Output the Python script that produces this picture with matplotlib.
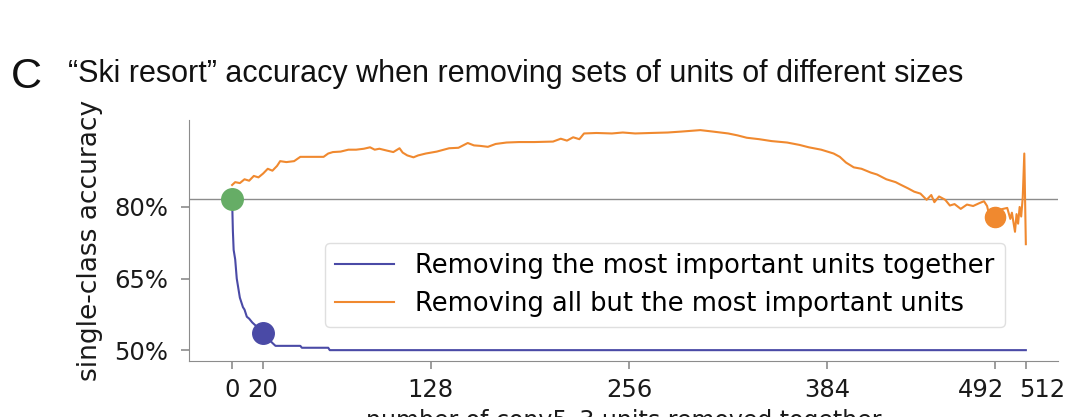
import matplotlib
matplotlib.use("Agg")
import matplotlib.pyplot as plt
from matplotlib.ticker import FuncFormatter
from matplotlib.transforms import ScaledTranslation

# ---- data (percent accuracy) ----
blue_x = [0, 0.5, 1, 2, 3, 5, 7, 8, 9.5, 11, 13, 15, 18, 20, 23, 26, 28, 44, 45, 62, 63, 512]
blue_y = [81.7, 75, 71, 69, 65, 61, 59, 58.5, 57, 56.6, 55.8, 55.2, 54.3, 53.6, 52.5, 51.5,
          50.9, 50.9, 50.5, 50.5, 50.0, 50.0]

orange_x = [0, 2, 5, 8, 11, 14, 17, 20, 23, 26, 29, 31, 35, 40, 44, 50, 55, 59, 62, 65, 70, 75,
            80, 85, 89, 92, 95, 100, 104, 108, 110, 113, 117, 120, 125, 132, 140, 146, 152, 156,
            160, 165, 170, 177, 185, 195, 207, 212, 216, 220, 224, 227, 235, 245, 252, 260, 270,
            281, 290, 302, 310, 315, 320, 326, 332, 340, 348, 358, 366, 372, 380, 388, 392, 396,
            401, 406, 412, 416, 422, 428, 431, 436, 440, 444, 448, 451, 453, 456, 460, 463, 466,
            470, 474, 478, 482, 485, 487, 488, 490, 493, 496, 500, 502, 503, 505, 506, 507, 508,
            509, 510, 511, 512]
orange_y = [84.6, 85.2, 85.0, 85.8, 85.5, 86.5, 86.2, 87.0, 88.0, 87.6, 88.6, 89.6, 89.4, 89.6,
            90.5, 90.5, 90.5, 90.5, 91.2, 91.5, 91.6, 92.0, 92.0, 92.2, 92.5, 92.0, 92.2, 91.8,
            91.5, 92.3, 91.4, 90.8, 90.4, 90.8, 91.2, 91.6, 92.3, 92.4, 93.4, 92.9, 92.8, 92.6,
            93.2, 93.5, 93.6, 93.6, 93.7, 94.3, 93.9, 94.6, 94.2, 95.4, 95.5, 95.4, 95.6, 95.4,
            95.5, 95.6, 95.8, 96.1, 95.8, 95.6, 95.4, 95.0, 94.5, 94.2, 93.8, 93.5, 93.0, 92.5,
            92.0, 91.2, 90.5, 89.3, 88.3, 88.0, 87.2, 86.8, 85.8, 85.2, 84.7, 83.9, 83.2, 82.8,
            81.5, 82.5, 81.0, 82.2, 81.5, 80.3, 80.6, 79.6, 80.5, 80.2, 80.8, 81.2, 80.2, 78.8,
            79.5, 78.5, 79.5, 79.8, 77.5, 78.8, 74.8, 78.5, 76.5, 80.0, 78.0, 82.0, 91.2, 72.2]

baseline = 81.7
green_pt = (0, 81.7)
blue_pt = (20, 53.6)
orange_pt = (492, 77.9)

xticks = [0, 20, 128, 256, 384, 492, 512]
yticks = [50, 65, 80]

labels = ["Removing the most important units together",
          "Removing all but the most important units"]

BLUE = "#4a4aa6"
ORANGE = "#f0892f"
GREEN = "#66ad66"
TXT = "#1a1a1a"

fig = plt.figure(figsize=(10.8, 4.17), dpi=100)
ax = fig.add_axes([0.175, 0.134, 0.805, 0.578])

ax.axhline(baseline, color="#8c8c8c", lw=1.0, zorder=1)
ax.plot(blue_x, blue_y, color=BLUE, lw=1.5, label=labels[0], zorder=2)
ax.plot(orange_x, orange_y, color=ORANGE, lw=1.5, label=labels[1], zorder=2)
ax.plot(*green_pt, "o", color=GREEN, ms=15.5, zorder=3)
ax.plot(*blue_pt, "o", color=BLUE, ms=15.5, zorder=3)
ax.plot(*orange_pt, "o", color=ORANGE, ms=14.5, zorder=3)

ax.set_xlim(-27.8, 533)
ax.set_ylim(47.7, 98.2)
ax.set_xticks(xticks)
ax.set_yticks(yticks)
ax.yaxis.set_major_formatter(FuncFormatter(lambda v, p: f"{v:.0f}%"))

for s in ["top", "right"]:
    ax.spines[s].set_visible(False)
for s in ["left", "bottom"]:
    ax.spines[s].set_color("#8c8c8c")
ax.tick_params(axis="both", colors="#8c8c8c", labelcolor=TXT, labelsize=17.5, length=6, width=1.2)
ax.tick_params(axis="x", pad=6)
ax.tick_params(axis="y", pad=9)

# nudge crowded tick labels apart (492 left, 512 right)
xt = ax.get_xaxis().get_major_ticks()
xt[5].label1.set_transform(xt[5].label1.get_transform() + ScaledTranslation(-0.14, 0, fig.dpi_scale_trans))
xt[6].label1.set_transform(xt[6].label1.get_transform() + ScaledTranslation(0.16, 0, fig.dpi_scale_trans))

ax.set_ylabel("single-class accuracy", fontsize=19, color=TXT, labelpad=8)
# the reference crops this label at the bottom edge, only its top is visible
ax.set_xlabel("number of conv5_3 units removed together", fontsize=17, color=TXT, labelpad=5)

leg = ax.legend(loc="lower left", bbox_to_anchor=(0.1565, 0.141), fontsize=18.5,
                handlelength=2.3, frameon=True, borderaxespad=0, labelspacing=0.45)
leg.get_frame().set_edgecolor("#d8d8d8")

fig.text(0.010, 1 - 88 / 417, "C", fontsize=31, family="Liberation Sans", color="#111111", va="baseline")
fig.text(0.063, 1 - 82 / 417, "\u201cSki resort\u201d accuracy when removing sets of units of different sizes",
         fontsize=22, family="Liberation Sans", color="#111111", va="baseline")

fig.savefig("out.png", dpi=100)
